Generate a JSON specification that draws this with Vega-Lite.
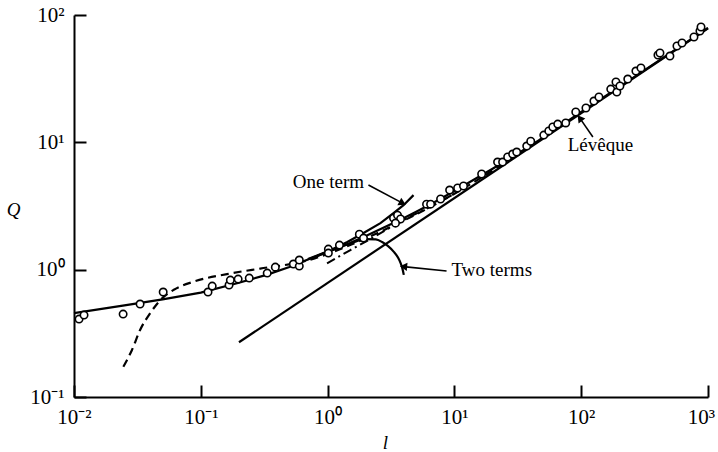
{
  "$schema": "https://vega.github.io/schema/vega-lite/v6.json",
  "width": 634,
  "height": 382,
  "autosize": {"type": "none"},
  "padding": {"left": 74, "top": 15, "right": 10, "bottom": 55},
  "background": "white",
  "config": {"view": {"stroke": null}, "font": "Liberation Serif"},
  "datasets": {
    "curves": [
      {"curve": "leveque", "l": 0.2, "Q": 0.269},
      {"curve": "leveque", "l": 1000, "Q": 78.7},
      {"curve": "main", "l": 0.01, "Q": 0.456},
      {"curve": "main", "l": 0.025, "Q": 0.524},
      {"curve": "main", "l": 0.05, "Q": 0.585},
      {"curve": "main", "l": 0.1, "Q": 0.66},
      {"curve": "main", "l": 0.2, "Q": 0.79},
      {"curve": "main", "l": 0.33, "Q": 0.91},
      {"curve": "main", "l": 0.5, "Q": 1.05},
      {"curve": "main", "l": 0.7, "Q": 1.2},
      {"curve": "main", "l": 1.0, "Q": 1.38},
      {"curve": "main", "l": 1.5, "Q": 1.62},
      {"curve": "main", "l": 2, "Q": 1.84},
      {"curve": "main", "l": 3, "Q": 2.22},
      {"curve": "main", "l": 4, "Q": 2.55},
      {"curve": "main", "l": 5, "Q": 2.85},
      {"curve": "main", "l": 7, "Q": 3.4},
      {"curve": "main", "l": 10, "Q": 4.15},
      {"curve": "main", "l": 20, "Q": 6.2},
      {"curve": "main", "l": 30, "Q": 7.9},
      {"curve": "main", "l": 50, "Q": 10.9},
      {"curve": "main", "l": 100, "Q": 17.3},
      {"curve": "main", "l": 200, "Q": 27.3},
      {"curve": "main", "l": 500, "Q": 50},
      {"curve": "main", "l": 1000, "Q": 79},
      {"curve": "one", "l": 0.7, "Q": 1.21},
      {"curve": "one", "l": 1.05, "Q": 1.42},
      {"curve": "one", "l": 1.43, "Q": 1.65},
      {"curve": "one", "l": 1.92, "Q": 1.94},
      {"curve": "one", "l": 2.61, "Q": 2.32},
      {"curve": "one", "l": 3.31, "Q": 2.78},
      {"curve": "one", "l": 3.97, "Q": 3.21},
      {"curve": "one", "l": 4.76, "Q": 3.85},
      {"curve": "two", "l": 0.8, "Q": 1.26},
      {"curve": "two", "l": 1.0, "Q": 1.38},
      {"curve": "two", "l": 1.5, "Q": 1.6},
      {"curve": "two", "l": 2.0, "Q": 1.74},
      {"curve": "two", "l": 2.4, "Q": 1.73},
      {"curve": "two", "l": 2.69, "Q": 1.65},
      {"curve": "two", "l": 3.0, "Q": 1.53},
      {"curve": "two", "l": 3.33, "Q": 1.38},
      {"curve": "two", "l": 3.6, "Q": 1.24},
      {"curve": "two", "l": 3.76, "Q": 1.13},
      {"curve": "two", "l": 3.9, "Q": 1.01},
      {"curve": "two", "l": 3.99, "Q": 0.91},
      {"curve": "dashed", "l": 0.0245, "Q": 0.173},
      {"curve": "dashed", "l": 0.0286, "Q": 0.233},
      {"curve": "dashed", "l": 0.0332, "Q": 0.336},
      {"curve": "dashed", "l": 0.0398, "Q": 0.454},
      {"curve": "dashed", "l": 0.048, "Q": 0.577},
      {"curve": "dashed", "l": 0.0608, "Q": 0.692},
      {"curve": "dashed", "l": 0.0875, "Q": 0.804},
      {"curve": "dashed", "l": 0.161, "Q": 0.923},
      {"curve": "dashed", "l": 0.294, "Q": 1.02},
      {"curve": "dashed", "l": 0.54, "Q": 1.12},
      {"curve": "dashed", "l": 0.8, "Q": 1.23},
      {"curve": "dashed", "l": 1.0, "Q": 1.33},
      {"curve": "dashed", "l": 2, "Q": 1.76},
      {"curve": "dashed", "l": 3, "Q": 2.12},
      {"curve": "dashed", "l": 5, "Q": 2.72},
      {"curve": "dashed", "l": 10, "Q": 3.95},
      {"curve": "dashed", "l": 20, "Q": 6.0},
      {"curve": "dashed", "l": 35, "Q": 8.6},
      {"curve": "dashed", "l": 60, "Q": 12.3},
      {"curve": "dashdot", "l": 0.99, "Q": 1.12},
      {"curve": "dashdot", "l": 1.5, "Q": 1.42},
      {"curve": "dashdot", "l": 2.0, "Q": 1.66},
      {"curve": "dashdot", "l": 3.13, "Q": 2.15},
      {"curve": "dashdot", "l": 4.5, "Q": 2.62},
      {"curve": "dashdot", "l": 6.49, "Q": 3.12},
      {"curve": "dashdot", "l": 10, "Q": 3.95}
    ],
    "points": [
      {"l": 0.01096, "Q": 0.409}, {"l": 0.0120, "Q": 0.440}, {"l": 0.0244, "Q": 0.448},
      {"l": 0.0332, "Q": 0.537}, {"l": 0.0505, "Q": 0.667}, {"l": 0.114, "Q": 0.667},
      {"l": 0.123, "Q": 0.743}, {"l": 0.167, "Q": 0.757}, {"l": 0.171, "Q": 0.828},
      {"l": 0.197, "Q": 0.843}, {"l": 0.241, "Q": 0.859}, {"l": 0.334, "Q": 0.940},
      {"l": 0.387, "Q": 1.047}, {"l": 0.537, "Q": 1.107}, {"l": 0.598, "Q": 1.067},
      {"l": 0.598, "Q": 1.19}, {"l": 1.014, "Q": 1.45}, {"l": 1.014, "Q": 1.35},
      {"l": 1.24, "Q": 1.56}, {"l": 1.78, "Q": 1.90}, {"l": 1.92, "Q": 1.77},
      {"l": 3.31, "Q": 2.54}, {"l": 3.56, "Q": 2.68}, {"l": 3.76, "Q": 2.50},
      {"l": 3.43, "Q": 2.32}, {"l": 6.03, "Q": 3.27}, {"l": 6.49, "Q": 3.27},
      {"l": 7.78, "Q": 3.59}, {"l": 9.17, "Q": 4.22}, {"l": 10.6, "Q": 4.38},
      {"l": 11.8, "Q": 4.54}, {"l": 16.4, "Q": 5.64}, {"l": 21.9, "Q": 7.00},
      {"l": 24.0, "Q": 7.00}, {"l": 26.3, "Q": 7.67}, {"l": 28.8, "Q": 8.09},
      {"l": 31.0, "Q": 8.39}, {"l": 37.2, "Q": 9.35}, {"l": 40.0, "Q": 10.2},
      {"l": 50.7, "Q": 11.4}, {"l": 55.5, "Q": 12.3}, {"l": 59.7, "Q": 13.2},
      {"l": 65.3, "Q": 13.9}, {"l": 75.5, "Q": 14.2}, {"l": 90.6, "Q": 17.3},
      {"l": 109, "Q": 18.6}, {"l": 126, "Q": 21.1}, {"l": 138, "Q": 22.7},
      {"l": 171, "Q": 26.2}, {"l": 188, "Q": 29.8}, {"l": 191, "Q": 24.8},
      {"l": 202, "Q": 27.7}, {"l": 233, "Q": 31.4}, {"l": 270, "Q": 36.3},
      {"l": 296, "Q": 38.4}, {"l": 403, "Q": 48.5}, {"l": 418, "Q": 50.3},
      {"l": 501, "Q": 47.6}, {"l": 569, "Q": 57.1}, {"l": 624, "Q": 60.3},
      {"l": 775, "Q": 67.2}, {"l": 864, "Q": 74.9}, {"l": 881, "Q": 80.5}
    ],
    "arrows": [
      {"name": "one", "l": 2.10, "Q": 4.62, "l2": 3.90, "Q2": 3.33},
      {"name": "two", "l": 8.67, "Q": 0.975, "l2": 3.97, "Q2": 1.057},
      {"name": "lev", "l": 123.6, "Q": 11.0, "l2": 97.5, "Q2": 15.5}
    ],
    "labels": [
      {"label": "One term", "side": "right", "l": 1.94, "Q": 4.38},
      {"label": "Two terms", "side": "left", "l": 9.5, "Q": 0.891},
      {"label": "Lévêque", "side": "left", "l": 78.3, "Q": 8.59}
    ]
  },
  "encoding": {
    "x": {
      "field": "l", "type": "quantitative",
      "scale": {"type": "log", "domain": [0.01, 1000], "nice": false},
      "axis": {
        "values": [0.01, 0.1, 1, 10, 100, 1000],
        "labelExpr": "datum.value < 0.05 ? '10⁻²' : datum.value < 0.5 ? '10⁻¹' : datum.value < 5 ? '10⁰' : datum.value < 50 ? '10¹' : datum.value < 500 ? '10²' : '10³'",
        "grid": false, "tickSize": -12, "tickWidth": 2, "tickColor": "black",
        "domainColor": "black", "domainWidth": 2,
        "labelFont": "Liberation Serif", "labelFontSize": 21, "labelColor": "black",
        "labelPadding": 21, "labelFlush": false, "labelOverlap": false, "labelBound": false,
        "labelOffset": {"condition": {"test": "datum.value > 500", "value": -7}, "value": 0},
        "title": "l", "titleFont": "Liberation Serif", "titleFontSize": 19, "titleFontStyle": "italic",
        "titleFontWeight": "normal", "titleColor": "black", "titleX": 311, "titleY": 51,
        "titleAlign": "center", "titleBaseline": "alphabetic"
      }
    },
    "y": {
      "field": "Q", "type": "quantitative",
      "scale": {"type": "log", "domain": [0.1, 100], "nice": false},
      "axis": {
        "values": [0.1, 1, 10, 100],
        "labelExpr": "datum.value < 0.5 ? '10⁻¹' : datum.value < 5 ? '10⁰' : datum.value < 50 ? '10¹' : '10²'",
        "grid": false, "tickSize": -12, "tickWidth": 2, "tickColor": "black",
        "domainColor": "black", "domainWidth": 2,
        "labelFont": "Liberation Serif", "labelFontSize": 21, "labelColor": "black",
        "labelPadding": 22, "labelFlush": false, "labelOverlap": false, "labelBound": false,
        "title": "Q", "titleFont": "Liberation Serif", "titleFontSize": 19, "titleFontStyle": "italic",
        "titleFontWeight": "normal", "titleColor": "black", "titleAngle": 0, "titleX": -61, "titleY": 200,
        "titleAlign": "center", "titleBaseline": "alphabetic"
      }
    }
  },
  "layer": [
    {"data": {"name": "curves"}, "transform": [{"filter": "datum.curve == 'leveque'"}],
     "mark": {"type": "line", "color": "black", "strokeWidth": 2.2}},
    {"data": {"name": "curves"}, "transform": [{"filter": "datum.curve == 'main'"}],
     "mark": {"type": "line", "color": "black", "strokeWidth": 2.2}},
    {"data": {"name": "curves"}, "transform": [{"filter": "datum.curve == 'one'"}],
     "mark": {"type": "line", "color": "black", "strokeWidth": 2.2}},
    {"data": {"name": "curves"}, "transform": [{"filter": "datum.curve == 'two'"}],
     "mark": {"type": "line", "color": "black", "strokeWidth": 2.2, "interpolate": "monotone"}},
    {"data": {"name": "curves"}, "transform": [{"filter": "datum.curve == 'dashed'"}],
     "mark": {"type": "line", "color": "black", "strokeWidth": 2.2, "strokeDash": [8, 5], "interpolate": "monotone"}},
    {"data": {"name": "curves"}, "transform": [{"filter": "datum.curve == 'dashdot'"}],
     "mark": {"type": "line", "color": "black", "strokeWidth": 2, "strokeDash": [9, 4, 2, 4]}},
    {"data": {"name": "points"},
     "mark": {"type": "point", "shape": "circle", "filled": true, "fill": "white", "stroke": "black", "strokeWidth": 1.6, "size": 55, "opacity": 1}},
    {"data": {"name": "arrows"},
     "mark": {"type": "rule", "color": "black", "strokeWidth": 1.6},
     "encoding": {"x2": {"field": "l2"}, "y2": {"field": "Q2"}}},
    {"data": {"name": "arrows"}, "transform": [{"filter": "datum.name == 'one'"}],
     "mark": {"type": "point", "shape": "triangle-right", "filled": true, "color": "black", "size": 70, "angle": 28, "opacity": 1},
     "encoding": {"x": {"field": "l2", "type": "quantitative"}, "y": {"field": "Q2", "type": "quantitative"}}},
    {"data": {"name": "arrows"}, "transform": [{"filter": "datum.name == 'two'"}],
     "mark": {"type": "point", "shape": "triangle-right", "filled": true, "color": "black", "size": 70, "angle": 185, "opacity": 1},
     "encoding": {"x": {"field": "l2", "type": "quantitative"}, "y": {"field": "Q2", "type": "quantitative"}}},
    {"data": {"name": "arrows"}, "transform": [{"filter": "datum.name == 'lev'"}],
     "mark": {"type": "point", "shape": "triangle-right", "filled": true, "color": "black", "size": 70, "angle": 234, "opacity": 1},
     "encoding": {"x": {"field": "l2", "type": "quantitative"}, "y": {"field": "Q2", "type": "quantitative"}}},
    {"data": {"name": "labels"}, "transform": [{"filter": "datum.side == 'right'"}],
     "mark": {"type": "text", "align": "right", "baseline": "alphabetic", "font": "Liberation Serif", "fontSize": 19, "color": "black"},
     "encoding": {"text": {"field": "label"}}},
    {"data": {"name": "labels"}, "transform": [{"filter": "datum.side == 'left'"}],
     "mark": {"type": "text", "align": "left", "baseline": "alphabetic", "font": "Liberation Serif", "fontSize": 19, "color": "black"},
     "encoding": {"text": {"field": "label"}}}
  ]
}
